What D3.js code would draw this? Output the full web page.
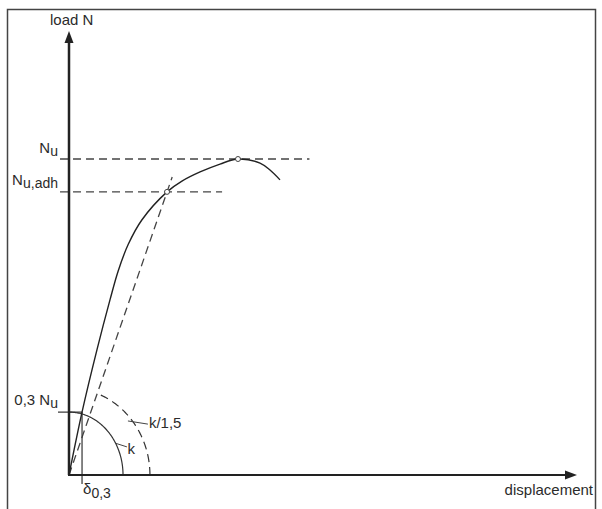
<!DOCTYPE html>
<html>
<head>
<meta charset="utf-8">
<script src="https://cdn.jsdelivr.net/npm/d3@7"></script>
<style>
  body { margin: 0; background: #fff; }
  text { font-family: "Liberation Sans", Arial, sans-serif; fill: #2b2b2b; }
</style>
</head>
<body>
<script>
// load-displacement curve (load in % of Nu)
const curveDisp = [0, 0.77, 1.65, 2.42, 2.9, 3.5, 4.3, 5.79, 6.67, 7.74, 8.92, 9.98, 11.28, 11.87, 12.46];
const curveLoad = [0, 19.9, 39.6, 55.4, 64.5, 73.0, 80.7, 89.6, 93.0, 95.9, 98.4, 100, 98.7, 96.5, 93.4];

// reference levels
const levelNames = ["Nu", "Nu,adh", "0,3 Nu"];
const levelLoads = [100, 89.6, 19.9];
const levelEnds = [14.2, 9.04, 0.77];
const delta03 = 0.77;
const secantTop = 94.3;

// stiffness arcs (quarter ellipses, half-axes in data units)
const arcNames = ["k", "k/1,5"];
const arcRx = [3.19, 4.78];
const arcRy = [19.9, 27.5];
const arcStartDeg = [90, 70];

const w = 602;
const h = 509;

const xScale = d3.scaleLinear().domain([0, 30]).range([69, 577]);
const yScale = d3.scaleLinear().domain([0, 100]).range([475, 159]);
const yTop = yScale.invert(31);

const svg = d3.select("body").append("svg").attr("width", w).attr("height", h);

// frame
svg.append("rect")
  .attr("x", 7.5).attr("y", 9.5)
  .attr("width", 588).attr("height", 520)
  .attr("fill", "none").attr("stroke", "#444").attr("stroke-width", 1.5);

const line = d3.line().x((d) => xScale(d[0])).y((d) => yScale(d[1]));

// dashed level lines
svg.append("path")
  .attr("d", line([[-0.53, levelLoads[0]], [levelEnds[0], levelLoads[0]]]))
  .attr("stroke", "#444").attr("stroke-width", 1.3).attr("stroke-dasharray", "8,5").attr("fill", "none");
svg.append("path")
  .attr("d", line([[-0.53, levelLoads[1]], [levelEnds[1], levelLoads[1]]]))
  .attr("stroke", "#444").attr("stroke-width", 1.3).attr("stroke-dasharray", "8,5").attr("fill", "none");

// secant line through Nu,adh point
const secSlope = curveDisp[7] / curveLoad[7];
svg.append("path")
  .attr("d", line([[0, 0], [secSlope * secantTop, secantTop]]))
  .attr("stroke", "#444").attr("stroke-width", 1.3).attr("stroke-dasharray", "8,5").attr("fill", "none");

// 0,3 Nu level and delta line
svg.append("path")
  .attr("d", line([[-0.65, levelLoads[2]], [levelEnds[2], levelLoads[2]]]))
  .attr("stroke", "#333").attr("stroke-width", 1.2).attr("fill", "none");
svg.append("path")
  .attr("d", line([[delta03, levelLoads[2]], [delta03, -2.85]]))
  .attr("stroke", "#333").attr("stroke-width", 1.2).attr("fill", "none");

// arcs
arcNames.forEach((name, i) => {
  const pts = d3.range(0, arcStartDeg[i] + 0.01, 1).map((deg) => {
    const t = (deg * Math.PI) / 180;
    return [arcRx[i] * Math.cos(t), arcRy[i] * Math.sin(t)];
  });
  svg.append("path")
    .attr("d", line(pts))
    .attr("fill", "none")
    .attr("stroke", "#333")
    .attr("stroke-width", 1.2)
    .attr("stroke-dasharray", i === 1 ? "8,5" : null);
});

// main curve
const curvePts = curveDisp.map((d, i) => [d, curveLoad[i]]);
svg.append("path")
  .attr("d", d3.line().x((d) => xScale(d[0])).y((d) => yScale(d[1])).curve(d3.curveCatmullRom.alpha(0.5))(curvePts))
  .attr("fill", "none").attr("stroke", "#222").attr("stroke-width", 1.4);

// markers
[[curveDisp[11], curveLoad[11]], [curveDisp[7], curveLoad[7]]].forEach((p) => {
  svg.append("circle")
    .attr("cx", xScale(p[0])).attr("cy", yScale(p[1])).attr("r", 2.5)
    .attr("fill", "#fff").attr("stroke", "#444").attr("stroke-width", 1);
});

// axes with arrows
svg.append("line")
  .attr("x1", xScale(0)).attr("y1", yScale(0))
  .attr("x2", xScale(0)).attr("y2", yScale(yTop) + 10)
  .attr("stroke", "#222").attr("stroke-width", 2.5);
svg.append("path")
  .attr("d", `M${xScale(0)},${yScale(yTop)} l-4.5,12 l9,0 z`)
  .attr("fill", "#222");
svg.append("line")
  .attr("x1", xScale(0) - 1).attr("y1", yScale(0))
  .attr("x2", xScale(30) - 10).attr("y2", yScale(0))
  .attr("stroke", "#222").attr("stroke-width", 2);
svg.append("path")
  .attr("d", `M${xScale(30)},${yScale(0)} l-12,-4.5 l0,9 z`)
  .attr("fill", "#222");

// leaders
svg.append("path").attr("d", line([[2.72, 10.1], [3.42, 8.9]]))
  .attr("stroke", "#444").attr("stroke-width", 1).attr("fill", "none");
svg.append("path").attr("d", line([[3.48, 17.1], [4.66, 16.1]]))
  .attr("stroke", "#444").attr("stroke-width", 1).attr("fill", "none");

// labels
const fs = 15;
const sub = 14;
svg.append("text").attr("x", 50).attr("y", 25).attr("font-size", fs).text("load N");
svg.append("text").attr("x", 593).attr("y", 495).attr("text-anchor", "end").attr("font-size", fs).text("displacement");

const subLabel = (x, y, main, s) => {
  const t = svg.append("text").attr("x", x).attr("y", y).attr("text-anchor", "end").attr("font-size", fs);
  t.append("tspan").text(main);
  t.append("tspan").attr("font-size", sub).attr("dy", 3).text(s);
  return t;
};
subLabel(58, yScale(levelLoads[0]) - 6, "N", "u");
subLabel(58, yScale(levelLoads[1]) - 7, "N", "u,adh");
subLabel(58, yScale(levelLoads[2]) - 7, "0,3 N", "u");

const dl = svg.append("text").attr("x", xScale(delta03) + 1).attr("y", 494).attr("font-size", fs);
dl.append("tspan").text("δ");
dl.append("tspan").attr("font-size", sub).attr("dy", 4).text("0,3");

svg.append("text").attr("x", xScale(3.42) + 0.5).attr("y", 454).attr("font-size", fs).text(arcNames[0]);
svg.append("text").attr("x", xScale(4.66) + 1).attr("y", 428).attr("font-size", fs).text(arcNames[1]);
</script>
</body>
</html>
